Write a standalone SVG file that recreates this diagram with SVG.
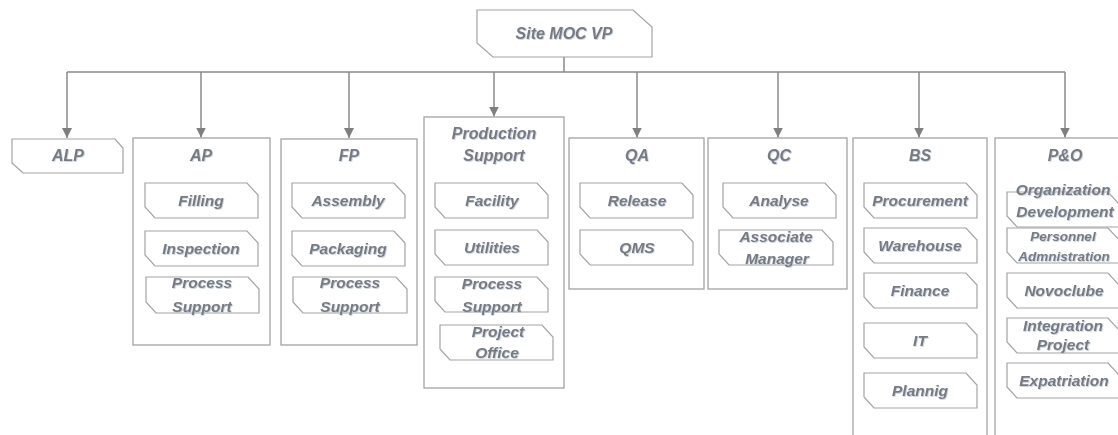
<svg xmlns="http://www.w3.org/2000/svg" width="1118" height="435" viewBox="0 0 1118 435">
<defs>
<style>
.box{fill:#fff;stroke:#a3a3a3;stroke-width:1.3}
.sub{fill:#fff;stroke:#a3a3a3;stroke-width:1.2}
.conn{fill:none;stroke:#8a8a8a;stroke-width:1.5}
text{font-family:"Liberation Sans",Arial,sans-serif;font-weight:bold;font-style:italic;fill:#7a7a7a;text-anchor:middle;filter:url(#ts)}
.t{font-size:16px}
.s{font-size:15.5px}
.sm{font-size:13.5px}
</style>
<filter id="ts" x="-10%" y="-30%" width="130%" height="160%">
<feDropShadow dx="0.8" dy="0.8" stdDeviation="0.7" flood-color="#a9bde0" flood-opacity="0.8"/>
</filter>
<marker id="arr" markerUnits="userSpaceOnUse" markerWidth="10" markerHeight="10" viewBox="0 0 10 10" refX="10" refY="5" orient="auto">
<path d="M0,0 L10,5 L0,10 Z" fill="#7f7f7f"/>
</marker>
</defs>

<g id="connectors">
<path class="conn" d="M564,57 V72"/>
<path class="conn" d="M67,72 H1065"/>
<path class="conn" d="M67,72 V138" marker-end="url(#arr)"/>
<path class="conn" d="M201,72 V137.5" marker-end="url(#arr)"/>
<path class="conn" d="M349,72 V138" marker-end="url(#arr)"/>
<path class="conn" d="M494,72 V116.5" marker-end="url(#arr)"/>
<path class="conn" d="M637,72 V137.5" marker-end="url(#arr)"/>
<path class="conn" d="M778,72 V137.5" marker-end="url(#arr)"/>
<path class="conn" d="M919,72 V137.5" marker-end="url(#arr)"/>
<path class="conn" d="M1065,72 V137.5" marker-end="url(#arr)"/>
</g>

<g id="site-moc-vp">
<path class="sub" d="M477,10 H633 L652,27 V57 H493 L477,43 Z"/>
<text class="t" x="564" y="39">Site MOC VP</text>
</g>

<g id="alp">
<path class="sub" d="M12,139 H115 L123,148 V173 H23 L12,163 Z"/>
<text class="t" x="68" y="161">ALP</text>
</g>

<g id="ap">
<rect class="box" x="133" y="138" width="137" height="207"/>
<text class="t" x="201" y="161">AP</text>
<g id="ap-filling"><path class="sub" d="M145,183 H247 L258,195 V218 H155 L145,207 Z"/><text class="s" x="201" y="206">Filling</text></g>
<g id="ap-inspection"><path class="sub" d="M145,231 H247 L258,243 V266 H155 L145,255 Z"/><text class="s" x="201" y="254">Inspection</text></g>
<g id="ap-process-support"><path class="sub" d="M146,277 H248 L259,289 V313 H156 L146,302 Z"/><text class="s" x="202" y="288">Process</text><text class="s" x="202" y="312">Support</text></g>
</g>

<g id="fp">
<rect class="box" x="281" y="139" width="136" height="206"/>
<text class="t" x="349" y="161">FP</text>
<g id="fp-assembly"><path class="sub" d="M292,183 H394 L405,195 V218 H302 L292,207 Z"/><text class="s" x="348" y="206">Assembly</text></g>
<g id="fp-packaging"><path class="sub" d="M292,231 H394 L405,243 V266 H302 L292,255 Z"/><text class="s" x="348" y="254">Packaging</text></g>
<g id="fp-process-support"><path class="sub" d="M293,277 H396 L407,289 V313 H303 L293,302 Z"/><text class="s" x="350" y="288">Process</text><text class="s" x="350" y="312">Support</text></g>
</g>

<g id="production-support">
<rect class="box" x="424" y="117" width="140" height="271"/>
<text class="t" x="494" y="139">Production</text>
<text class="t" x="494" y="161">Support</text>
<g id="ps-facility"><path class="sub" d="M435,183 H537 L548,195 V218 H445 L435,207 Z"/><text class="s" x="492" y="206">Facility</text></g>
<g id="ps-utilities"><path class="sub" d="M435,230 H537 L548,242 V265 H445 L435,254 Z"/><text class="s" x="492" y="253">Utilities</text></g>
<g id="ps-process-support"><path class="sub" d="M435,277 H537 L548,289 V312 H445 L435,301 Z"/><text class="s" x="492" y="289">Process</text><text class="s" x="492" y="312">Support</text></g>
<g id="ps-project-office"><path class="sub" d="M440,325 H542 L553,337 V360 H450 L440,349 Z"/><text class="s" x="498" y="337">Project</text><text class="s" x="497" y="358">Office</text></g>
</g>

<g id="qa">
<rect class="box" x="569" y="138" width="135" height="151"/>
<text class="t" x="637" y="161">QA</text>
<g id="qa-release"><path class="sub" d="M580,183 H682 L693,195 V218 H590 L580,207 Z"/><text class="s" x="637" y="206">Release</text></g>
<g id="qa-qms"><path class="sub" d="M580,230 H682 L693,242 V265 H590 L580,254 Z"/><text class="s" x="637" y="253">QMS</text></g>
</g>

<g id="qc">
<rect class="box" x="708" y="138" width="139" height="151"/>
<text class="t" x="779" y="161">QC</text>
<g id="qc-analyse"><path class="sub" d="M723,183 H825 L836,195 V218 H733 L723,207 Z"/><text class="s" x="779" y="206">Analyse</text></g>
<g id="qc-associate-manager"><path class="sub" d="M719,230 H822 L833,242 V265 H729 L719,254 Z"/><text class="s" x="776" y="242">Associate</text><text class="s" x="777" y="264">Manager</text></g>
</g>

<g id="bs">
<rect class="box" x="853" y="138" width="134" height="310"/>
<text class="t" x="920" y="161">BS</text>
<g id="bs-procurement"><path class="sub" d="M864,183 H966 L977,195 V218 H874 L864,207 Z"/><text class="s" x="920" y="206">Procurement</text></g>
<g id="bs-warehouse"><path class="sub" d="M864,228 H966 L977,240 V263 H874 L864,252 Z"/><text class="s" x="920" y="251">Warehouse</text></g>
<g id="bs-finance"><path class="sub" d="M864,273 H966 L977,285 V308 H874 L864,297 Z"/><text class="s" x="920" y="296">Finance</text></g>
<g id="bs-it"><path class="sub" d="M864,323 H966 L977,335 V358 H874 L864,347 Z"/><text class="s" x="920" y="346">IT</text></g>
<g id="bs-plannig"><path class="sub" d="M864,373 H966 L977,385 V408 H874 L864,397 Z"/><text class="s" x="920" y="396">Plannig</text></g>
</g>

<g id="p-and-o">
<rect class="box" x="995" y="138" width="140" height="310"/>
<text class="t" x="1065" y="161">P&amp;O</text>
<g id="po-org-dev"><path class="sub" d="M1007,192 H1108 L1119,204 V227 H1017 L1007,216 Z"/><text class="s" x="1063" y="195">Organization</text><text class="s" x="1065" y="217">Development</text></g>
<g id="po-personnel"><path class="sub" d="M1007,228 H1108 L1119,240 V263 H1017 L1007,252 Z"/><text class="sm" x="1063" y="241">Personnel</text><text class="sm" x="1064" y="261">Admnistration</text></g>
<g id="po-novoclube"><path class="sub" d="M1007,273 H1108 L1119,285 V308 H1017 L1007,297 Z"/><text class="s" x="1064" y="296">Novoclube</text></g>
<g id="po-integration"><path class="sub" d="M1007,318 H1108 L1119,330 V353 H1017 L1007,342 Z"/><text class="s" x="1063" y="331">Integration</text><text class="s" x="1063" y="350">Project</text></g>
<g id="po-expatriation"><path class="sub" d="M1007,363 H1108 L1119,375 V398 H1017 L1007,387 Z"/><text class="s" x="1064" y="386">Expatriation</text></g>
</g>
</svg>
